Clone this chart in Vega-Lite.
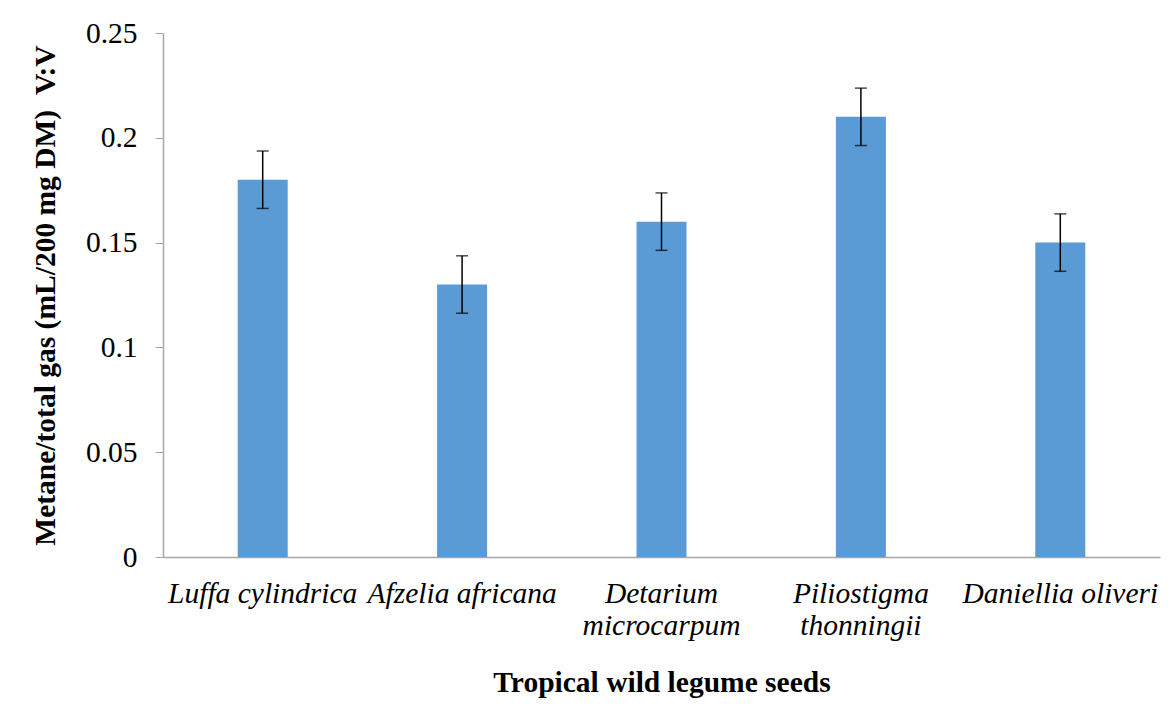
{
  "$schema": "https://vega.github.io/schema/vega-lite/v6.json",
  "width": 997,
  "height": 524,
  "autosize": {"type": "none"},
  "padding": {"left": 163, "top": 33, "right": 16, "bottom": 155},
  "background": "white",
  "config": {"view": {"stroke": null}, "font": "Liberation Serif"},
  "data": {
    "values": [
      {"seed": "Luffa cylindrica", "value": 0.18, "low": 0.1663, "high": 0.1937},
      {"seed": "Afzelia africana", "value": 0.13, "low": 0.1163, "high": 0.1437},
      {"seed": "Detarium microcarpum", "value": 0.16, "low": 0.1463, "high": 0.1737},
      {"seed": "Piliostigma thonningii", "value": 0.21, "low": 0.1963, "high": 0.2237},
      {"seed": "Daniellia oliveri", "value": 0.15, "low": 0.1363, "high": 0.1637}
    ]
  },
  "encoding": {
    "x": {
      "field": "seed",
      "type": "nominal",
      "sort": null,
      "scale": {"paddingInner": 0, "paddingOuter": 0},
      "axis": {
        "title": "Tropical wild legume seeds",
        "titleFont": "Liberation Serif",
        "titleFontSize": 29.5,
        "titleFontWeight": "bold",
        "titleColor": "black",
        "titlePadding": 29,
        "labelFont": "Liberation Serif",
        "labelFontSize": 29.5,
        "labelFontStyle": "italic",
        "labelColor": "black",
        "labelAngle": 0,
        "labelPadding": 22,
        "labelLineHeight": 32,
        "labelLimit": 300,
        "labelOverlap": false,
        "ticks": false,
        "domainColor": "#a6a6a6",
        "domainWidth": 1.5,
        "labelExpr": "datum.label == 'Detarium microcarpum' ? ['Detarium', 'microcarpum'] : datum.label == 'Piliostigma thonningii' ? ['Piliostigma', 'thonningii'] : datum.label"
      }
    }
  },
  "layer": [
    {
      "mark": {"type": "bar", "width": 50, "color": "#5B9BD5"},
      "encoding": {
        "y": {
          "field": "value",
          "type": "quantitative",
          "scale": {"domain": [0, 0.25], "nice": false},
          "axis": {
            "title": "Metane/total gas (mL/200 mg DM)\u00a0\u00a0V:V",
            "titleFont": "Liberation Serif",
            "titleFontSize": 29.5,
            "titleFontWeight": "bold",
            "titleColor": "black",
            "titlePadding": 25,
            "values": [0, 0.05, 0.1, 0.15, 0.2, 0.25],
            "format": "~g",
            "labelFont": "Liberation Serif",
            "labelFontSize": 29.5,
            "labelColor": "black",
            "labelPadding": 18,
            "tickSize": 8,
            "tickColor": "#a6a6a6",
            "domainColor": "#a6a6a6",
            "domainWidth": 1.5,
            "grid": false
          }
        }
      }
    },
    {
      "mark": {"type": "rule", "color": "black", "strokeWidth": 1.5},
      "encoding": {
        "y": {"field": "low", "type": "quantitative"},
        "y2": {"field": "high"}
      }
    },
    {
      "mark": {"type": "tick", "color": "black", "size": 12, "thickness": 1.5},
      "encoding": {"y": {"field": "low", "type": "quantitative"}}
    },
    {
      "mark": {"type": "tick", "color": "black", "size": 12, "thickness": 1.5},
      "encoding": {"y": {"field": "high", "type": "quantitative"}}
    }
  ]
}
